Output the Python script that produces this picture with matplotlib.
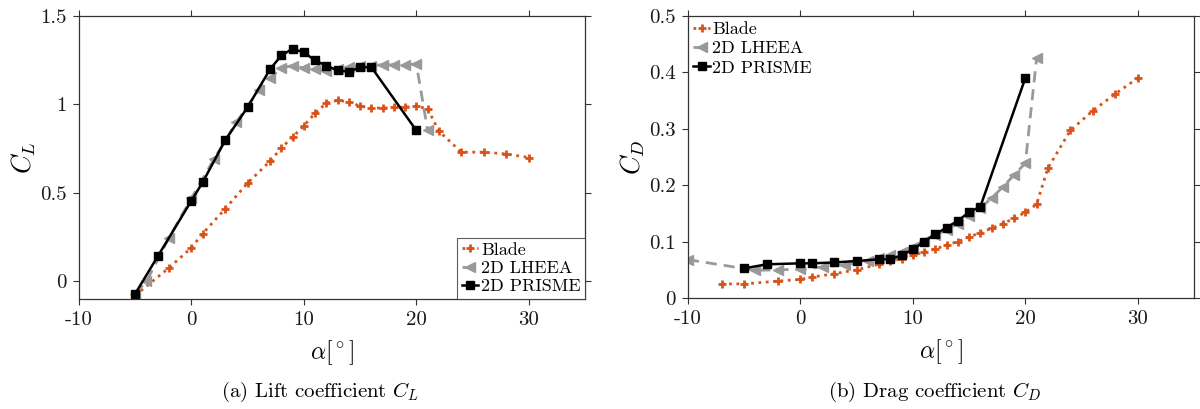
import matplotlib
matplotlib.use("Agg")
import matplotlib.pyplot as plt

plt.rcParams['font.family'] = ['cmr10', 'DejaVu Serif']
plt.rcParams['mathtext.fontset'] = 'cm'
plt.rcParams['axes.unicode_minus'] = False
plt.rcParams['axes.formatter.use_mathtext'] = False

# ---- Lift coefficient data ----
blade_cl_alpha = [-5, -2, 0, 1, 3, 5, 7, 8, 9, 10, 11, 12, 13, 14, 15, 16, 17, 18, 19, 20, 21, 22, 24, 26, 28, 30]
blade_cl = [-0.08, 0.076, 0.19, 0.27, 0.41, 0.556, 0.68, 0.754, 0.816, 0.88, 0.95, 1.008, 1.023, 1.015, 0.99,
            0.98, 0.98, 0.983, 0.985, 0.99, 0.976, 0.85, 0.73, 0.73, 0.72, 0.70]

lheea_cl_alpha = [-5, -4, -2, 0, 2, 4, 6, 7, 8, 9, 10, 11, 12, 13, 14, 15, 16, 17, 18, 19, 20, 21]
lheea_cl = [-0.07, 0.0, 0.245, 0.47, 0.69, 0.90, 1.083, 1.149, 1.206, 1.22, 1.206, 1.20, 1.19, 1.20, 1.21,
            1.22, 1.22, 1.224, 1.224, 1.225, 1.228, 0.856]

prisme_cl_alpha = [-5, -3, 0, 1, 3, 5, 7, 8, 9, 10, 11, 12, 13, 14, 15, 16, 20]
prisme_cl = [-0.07, 0.141, 0.456, 0.56, 0.797, 0.985, 1.20, 1.277, 1.315, 1.294, 1.249, 1.219, 1.192, 1.185,
             1.209, 1.211, 0.853]

# ---- Drag coefficient data ----
blade_cd_alpha = [-7, -5, -2, 0, 1, 3, 5, 7, 8, 9, 10, 11, 12, 13, 14, 15, 16, 17, 18, 19, 20, 21, 22, 24, 26, 28, 30]
blade_cd = [0.025, 0.025, 0.030, 0.033, 0.037, 0.043, 0.050, 0.060, 0.065, 0.070, 0.076, 0.081, 0.087, 0.094,
            0.100, 0.108, 0.116, 0.1235, 0.132, 0.141, 0.152, 0.166, 0.23, 0.297, 0.332, 0.362, 0.39]

lheea_cd_alpha = [-10, -4, -2, 0, 2, 4, 6, 7, 8, 9, 10, 11, 12, 13, 14, 15, 16, 17, 18, 19, 20, 21]
lheea_cd = [0.068, 0.049, 0.050, 0.051, 0.055, 0.059, 0.066, 0.071, 0.076, 0.082, 0.091, 0.101, 0.111, 0.121,
            0.132, 0.145, 0.16, 0.177, 0.197, 0.218, 0.239, 0.425]

prisme_cd_alpha = [-5, -3, 0, 1, 3, 5, 7, 8, 9, 10, 11, 12, 13, 14, 15, 16, 20]
prisme_cd = [0.0526, 0.0597, 0.0615, 0.0615, 0.063, 0.0656, 0.0686, 0.0686, 0.076, 0.086, 0.100, 0.113,
             0.125, 0.137, 0.152, 0.162, 0.39]

labels = ['Blade', '2D LHEEA', '2D PRISME']
x_ticks = [-10, 0, 10, 20, 30]
x_tick_labels = ['-10', '0', '10', '20', '30']

ORANGE = '#D95319'
GRAY = '#999999'
SPINE = '#333333'

fig = plt.figure(figsize=(12, 4.09), dpi=100)
ax1 = fig.add_axes([79 / 1200, 110 / 409, 506 / 1200, 283 / 409])
ax2 = fig.add_axes([688 / 1200, 111 / 409, 506 / 1200, 282 / 409])


def draw(ax, ba, bv, la, lv, pa, pv):
    ax.plot(ba, bv, linestyle=':', color=ORANGE, lw=2.0, marker='+', ms=6, mew=2.0, label=labels[0])
    ax.plot(la, lv, linestyle='--', color=GRAY, lw=2.0, marker='<', ms=7, mec=GRAY, mfc=GRAY,
            dashes=(4, 2.5), label=labels[1])
    ax.plot(pa, pv, linestyle='-', color='black', lw=1.8, marker='s', ms=5.5, label=labels[2])
    ax.set_xlim(-10, 35)
    ax.set_xticks(x_ticks)
    ax.set_xticklabels(x_tick_labels)
    ax.tick_params(direction='out', length=4, width=0.8, top=True, right=True, colors=SPINE,
                   labelcolor='#1a1a1a', labelsize=15, pad=5)
    for s in ax.spines.values():
        s.set_color(SPINE)
        s.set_linewidth(0.9)
    ax.set_xlabel(r'$\alpha[^\circ]$', fontsize=17, labelpad=6)


draw(ax1, blade_cl_alpha, blade_cl, lheea_cl_alpha, lheea_cl, prisme_cl_alpha, prisme_cl)
ax1.set_ylim(-0.1, 1.5)
ax1.set_yticks([0, 0.5, 1, 1.5])
ax1.set_yticklabels(['0', '0.5', '1', '1.5'])
ax1.set_ylabel(r'$C_L$', fontsize=19, labelpad=1)
leg1 = ax1.legend(loc='lower right', fontsize=13, frameon=True, fancybox=False, borderaxespad=0,
                  handlelength=0.9, handletextpad=0.15, borderpad=0.25, labelspacing=0.15)
leg1.get_frame().set_edgecolor(SPINE)
leg1.get_frame().set_linewidth(0.8)

draw(ax2, blade_cd_alpha, blade_cd, lheea_cd_alpha, lheea_cd, prisme_cd_alpha, prisme_cd)
ax2.set_ylim(0, 0.5)
ax2.set_yticks([0, 0.1, 0.2, 0.3, 0.4, 0.5])
ax2.set_yticklabels(['0', '0.1', '0.2', '0.3', '0.4', '0.5'])
ax2.set_ylabel(r'$C_D$', fontsize=19, labelpad=1)
ax2.legend(loc='upper left', fontsize=13, frameon=False, borderaxespad=0.05,
           handlelength=0.9, handletextpad=0.15, borderpad=0.25, labelspacing=0.2)

fig.text(320 / 1200, 1 - 392 / 409, r'(a) Lift coefficient $C_L$', ha='center', va='center', fontsize=15)
fig.text(935 / 1200, 1 - 392 / 409, r'(b) Drag coefficient $C_D$', ha='center', va='center', fontsize=15)

fig.savefig('out.png', dpi=100)
